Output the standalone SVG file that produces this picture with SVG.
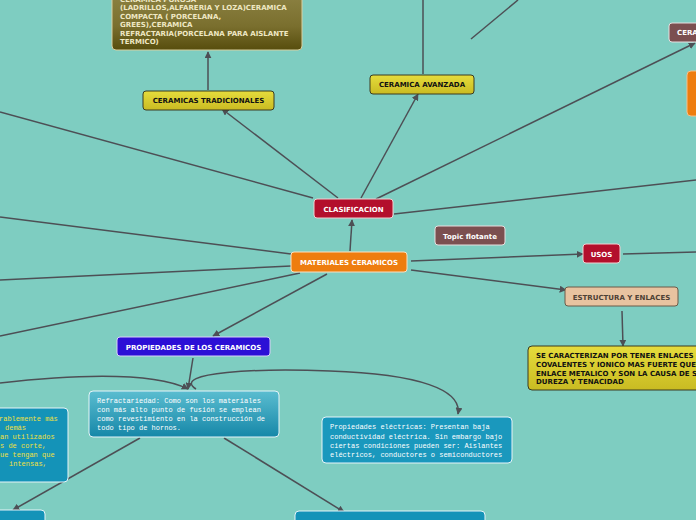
<svg xmlns="http://www.w3.org/2000/svg" width="696" height="520" viewBox="0 0 696 520">
<defs>
<style>
.c{fill:none;stroke:#4d4f55;stroke-width:1.5}
.lb{font-family:"DejaVu Sans",Verdana,sans-serif;font-weight:bold;font-size:7px;text-anchor:middle}
.mono{font-family:"Liberation Mono","Courier New",monospace;font-size:7px}
</style>
<marker id="a" viewBox="0 0 10 10" refX="9" refY="5" markerWidth="7" markerHeight="7" orient="auto" markerUnits="userSpaceOnUse">
<path d="M0,0 L10,5 L0,10 z" fill="#4d4f55"/>
</marker>
<linearGradient id="olive" x1="0" y1="0" x2="0" y2="1">
<stop offset="0" stop-color="#8e8445"/>
<stop offset="0.6" stop-color="#7a6f2e"/>
<stop offset="1" stop-color="#574d0d"/>
</linearGradient>
<linearGradient id="cy" x1="0" y1="0" x2="0" y2="1">
<stop offset="0" stop-color="#5bbdd0"/>
<stop offset="1" stop-color="#1687a8"/>
</linearGradient>
<linearGradient id="yl" x1="0" y1="0" x2="0" y2="1">
<stop offset="0" stop-color="#e6dc3c"/>
<stop offset="1" stop-color="#c9bb22"/>
</linearGradient>
</defs>
<rect width="696" height="520" fill="#7ecdc1"/>

<g id="connectors">
<path class="c" d="M208,90 L208,52" marker-end="url(#a)"/>
<path class="c" d="M338,198 L222,109" marker-end="url(#a)"/>
<path class="c" d="M361,198 L418,94" marker-end="url(#a)"/>
<path class="c" d="M376,199 L695,43" marker-end="url(#a)"/>
<path class="c" d="M423,74 L423,0"/>
<path class="c" d="M471,39 L518,0"/>
<path class="c" d="M0,112 L313,198"/>
<path class="c" d="M394,214 L696,180"/>
<path class="c" d="M350,251 L352,220" marker-end="url(#a)"/>
<path class="c" d="M291,254 L0,217"/>
<path class="c" d="M291,266 L0,280"/>
<path class="c" d="M300,273 L0,336"/>
<path class="c" d="M327,274 L213,336" marker-end="url(#a)"/>
<path class="c" d="M411,261 L583,254" marker-end="url(#a)"/>
<path class="c" d="M411,270 L566,290" marker-end="url(#a)"/>
<path class="c" d="M623,254 L696,252"/>
<path class="c" d="M622,311 L623,346" marker-end="url(#a)"/>
<path class="c" d="M193,358 L188,389" marker-end="url(#a)"/>
<path class="c" d="M0,383 C60,376 150,370 188,389" marker-end="url(#a)"/>
<path class="c" d="M196,389 C170,372 260,368 330,371 C420,374 462,390 458,414" marker-end="url(#a)"/>
<path class="c" d="M140,438 L13,510" marker-end="url(#a)"/>
<path class="c" d="M224,438 L344,512" marker-end="url(#a)"/>
</g>

<g id="n-porosa">
<rect x="112" y="-10" width="190" height="60" rx="4" fill="url(#olive)" stroke="#d8d0a0" stroke-width="1"/>
<g font-family="'DejaVu Sans',Verdana,sans-serif" font-weight="bold" font-size="7" fill="#efe8c4">
<text x="120" y="2">CERAMICA POROSA</text>
<text x="120" y="10">(LADRILLOS,ALFARERIA Y LOZA)CERAMICA</text>
<text x="120" y="18.5">COMPACTA ( PORCELANA,</text>
<text x="120" y="27">GREES),CERAMICA</text>
<text x="120" y="35.5">REFRACTARIA(PORCELANA PARA AISLANTE</text>
<text x="120" y="44">TERMICO)</text>
</g>
</g>

<g id="n-tradicionales">
<rect x="143" y="91" width="131" height="19" rx="3" fill="url(#yl)" stroke="#3a3a20" stroke-width="1"/>
<text class="lb" x="208.5" y="103" fill="#111">CERAMICAS TRADICIONALES</text>
</g>

<g id="n-avanzada">
<rect x="370" y="75" width="104" height="19" rx="3" fill="url(#yl)" stroke="#3a3a20" stroke-width="1"/>
<text class="lb" x="422" y="87" fill="#111">CERAMICA AVANZADA</text>
</g>

<g id="n-cera">
<rect x="669" y="23" width="40" height="19" rx="3" fill="#7b4f50" stroke="#e8dede" stroke-width="1"/>
<text x="677" y="35" font-family="'DejaVu Sans',Verdana,sans-serif" font-weight="bold" font-size="7" fill="#fff">CERA</text>
</g>

<g id="n-orange-right">
<rect x="687" y="71" width="20" height="45" rx="4" fill="#ee7d0f" stroke="#f6c08a" stroke-width="1"/>
</g>

<g id="n-clasificacion">
<rect x="314" y="199" width="79" height="19" rx="3" fill="#b30f2c" stroke="#f0d0d0" stroke-width="1"/>
<text class="lb" x="353.5" y="211.5" fill="#fff">CLASIFICACION</text>
</g>

<g id="n-materiales">
<rect x="291" y="252" width="116" height="20" rx="3" fill="#ee7d0f" stroke="#fbe0c0" stroke-width="1"/>
<text class="lb" x="349" y="265" fill="#fff">MATERIALES CERAMICOS</text>
</g>

<g id="n-flotante">
<rect x="435" y="226" width="70" height="19" rx="3" fill="#7b4f50" stroke="#e8dede" stroke-width="1"/>
<text class="lb" x="470" y="238.5" fill="#fff">Topic flotante</text>
</g>

<g id="n-usos">
<rect x="583" y="244" width="37" height="19" rx="3" fill="#b30f2c" stroke="#f0d0d0" stroke-width="1"/>
<text class="lb" x="601.5" y="256.5" fill="#fff">USOS</text>
</g>

<g id="n-estructura">
<rect x="565" y="287" width="113" height="19" rx="3" fill="#e8c3a0" stroke="#6b5a48" stroke-width="1"/>
<text class="lb" x="621.5" y="299.5" fill="#4d4035">ESTRUCTURA Y ENLACES</text>
</g>

<g id="n-enlaces">
<rect x="528" y="346" width="180" height="44" rx="4" fill="url(#yl)" stroke="#3a3a20" stroke-width="1"/>
<g font-family="'DejaVu Sans',Verdana,sans-serif" font-weight="bold" font-size="7" fill="#111">
<text x="536" y="358">SE CARACTERIZAN POR TENER ENLACES</text>
<text x="536" y="367">COVALENTES Y IONICO MAS FUERTE QUE</text>
<text x="536" y="375.5">ENLACE METALICO Y SON LA CAUSA DE SU</text>
<text x="536" y="384">DUREZA Y TENACIDAD</text>
</g>
</g>

<g id="n-propiedades">
<rect x="117" y="337" width="153" height="19" rx="3" fill="#2c0fd6" stroke="#d8d0f8" stroke-width="1"/>
<text class="lb" x="193.5" y="349.5" fill="#fff">PROPIEDADES DE LOS CERAMICOS</text>
</g>

<g id="n-refractariedad">
<rect x="89" y="391" width="190" height="46" rx="4" fill="url(#cy)" stroke="#e6f4f8" stroke-width="1"/>
<g class="mono" fill="#fff">
<text x="97" y="403">Refractariedad: Como son los materiales</text>
<text x="97" y="412">con más alto punto de fusión se emplean</text>
<text x="97" y="421">como revestimiento en la construcción de</text>
<text x="97" y="430">todo tipo de hornos.</text>
</g>
</g>

<g id="n-electricas">
<rect x="322" y="417" width="190" height="46" rx="4" fill="#1a98bd" stroke="#e6f4f8" stroke-width="1"/>
<g class="mono" fill="#fff">
<text x="330" y="429">Propiedades eléctricas: Presentan baja</text>
<text x="330" y="438.5">conductividad eléctrica. Sin embargo bajo</text>
<text x="330" y="447.5">ciertas condiciones pueden ser: Aislantes</text>
<text x="330" y="456.5">eléctricos, conductores o semiconductores</text>
</g>
</g>

<g id="n-left">
<rect x="-20" y="408" width="88" height="74" rx="4" fill="#1493b8" stroke="#e6f4f8" stroke-width="1"/>
<g class="mono" fill="#f0e040">
<text x="-1" y="421">rablemente más</text>
<text x="5" y="430">demás</text>
<text x="0" y="439">an utilizados</text>
<text x="0" y="448">s de corte,</text>
<text x="0" y="457">ue tengan que</text>
<text x="9" y="466">intensas,</text>
</g>
</g>

<g id="n-bottom-left">
<rect x="-20" y="510" width="65" height="20" rx="4" fill="#1493b8" stroke="#e6f4f8" stroke-width="1"/>
</g>

<g id="n-bottom">
<rect x="295" y="511" width="190" height="20" rx="4" fill="#1493b8" stroke="#e6f4f8" stroke-width="1"/>
</g>
</svg>
